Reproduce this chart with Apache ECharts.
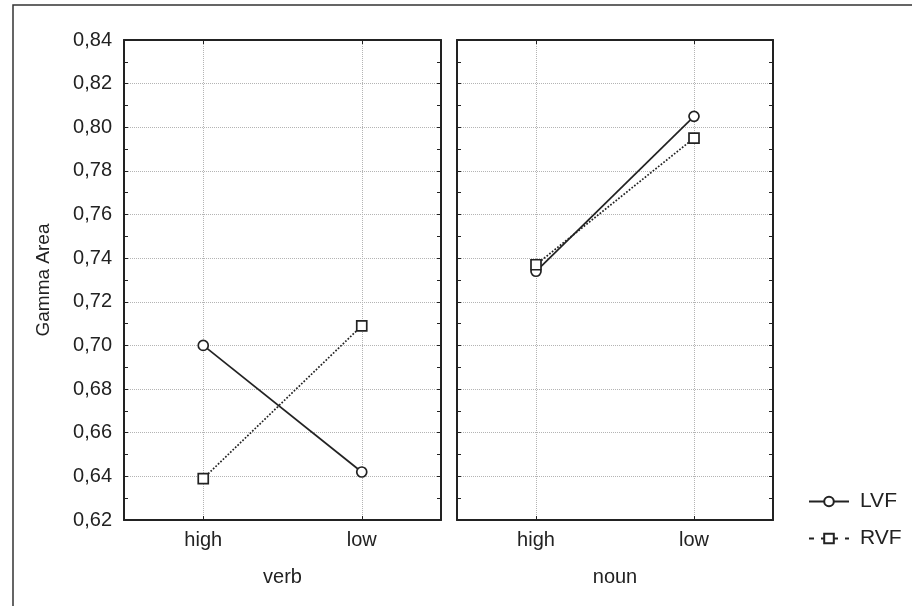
<!DOCTYPE html>
<html>
<head>
<meta charset="utf-8">
<script src="https://cdn.jsdelivr.net/npm/echarts@6/dist/echarts.min.js"></script>
<style>
  html, body { margin: 0; padding: 0; background: #fff; }
  #chart { width: 912px; height: 606px; }
</style>
</head>
<body>
<div id="chart"></div>
<script>
// Category levels for each panel
const verbCategories = ['high', 'low'];
const nounCategories = ['high', 'low'];

// Mean gamma area per visual field
const lvfVerb = [0.700, 0.642];
const rvfVerb = [0.639, 0.709];
const lvfNoun = [0.734, 0.805];
const rvfNoun = [0.737, 0.795];

// Value axis range and step
const yMin = 0.62;
const yMax = 0.84;
const yStep = 0.02;

const FONT = 'Liberation Sans, Arial, sans-serif';
const INK = '#222';

const chart = echarts.init(document.getElementById('chart'), null, { renderer: 'canvas' });

function bottomAxis(gridIndex, cats, name) {
  return {
    type: 'category', gridIndex: gridIndex, position: 'bottom', data: cats,
    boundaryGap: true,
    name: name, nameLocation: 'middle', nameGap: 47,
    nameTextStyle: { fontFamily: FONT, fontSize: 20, color: INK },
    axisLine: { show: true, onZero: false, lineStyle: { color: INK, width: 2 } },
    axisTick: { show: true, inside: true, alignWithLabel: true, length: 4, lineStyle: { color: INK } },
    axisLabel: { fontFamily: FONT, fontSize: 20, color: INK, margin: 10 },
    splitLine: { show: true, alignWithLabel: true, lineStyle: { color: '#b4b4b4', type: 'dotted', width: 1 } }
  };
}
function topAxis(gridIndex, cats) {
  return {
    type: 'category', gridIndex: gridIndex, position: 'top', data: cats,
    boundaryGap: true,
    axisLine: { show: true, onZero: false, lineStyle: { color: INK, width: 2 } },
    axisTick: { show: true, inside: true, alignWithLabel: true, length: 4, lineStyle: { color: INK } },
    axisLabel: { show: false },
    splitLine: { show: false }
  };
}
function valueAxis(gridIndex, position, withLabels) {
  const ax = {
    type: 'value', gridIndex: gridIndex, position: position,
    min: yMin, max: yMax, interval: yStep,
    axisLine: { show: true, lineStyle: { color: INK, width: 2 } },
    axisTick: { show: true, inside: true, length: 4, lineStyle: { color: INK } },
    minorTick: { show: true, splitNumber: 2, length: 4, lineStyle: { color: INK } },
    axisLabel: {
      show: withLabels, fontFamily: FONT, fontSize: 20, color: INK, margin: 12,
      formatter: v => v.toFixed(2).replace('.', ',')
    },
    splitLine: { show: position === 'left', lineStyle: { color: '#b4b4b4', type: 'dotted', width: 1 } }
  };
  if (withLabels) {
    ax.name = 'Gamma Area';
    ax.nameLocation = 'middle';
    ax.nameGap = 71;
    ax.nameTextStyle = { fontFamily: FONT, fontSize: 19, color: INK };
  }
  return ax;
}

function lineSeries(name, xi, yi, data, dotted, symbol) {
  return {
    name: name, type: 'line', xAxisIndex: xi, yAxisIndex: yi, data: data,
    symbol: symbol, symbolSize: 10, showSymbol: true,
    lineStyle: { color: INK, width: 1.7, type: dotted ? 'dotted' : 'solid' },
    itemStyle: { color: '#fff', borderColor: INK, borderWidth: 1.7 },
    emphasis: { disabled: true },
    z: 5
  };
}

const option = {
  backgroundColor: '#fff',
  animation: false,
  grid: [
    { left: 124, top: 40, width: 317, height: 480, containLabel: false },
    { left: 457, top: 40, width: 316, height: 480, containLabel: false }
  ],
  xAxis: [
    bottomAxis(0, verbCategories, 'verb'),
    bottomAxis(1, nounCategories, 'noun'),
    topAxis(0, verbCategories),
    topAxis(1, nounCategories)
  ],
  yAxis: [
    valueAxis(0, 'left', true),
    valueAxis(1, 'left', false),
    valueAxis(0, 'right', false),
    valueAxis(1, 'right', false)
  ],
  legend: {
    orient: 'vertical', left: 803, top: 486,
    itemWidth: 40, itemHeight: 12, itemGap: 16,
    textStyle: { fontFamily: FONT, fontSize: 21, color: INK, padding: [0, 0, 0, 6] },
    data: [
      { name: 'LVF' },
      { name: 'RVF', lineStyle: { type: [5, 7] } }
    ]
  },
  series: [
    lineSeries('LVF', 0, 0, lvfVerb, false, 'circle'),
    lineSeries('RVF', 0, 0, rvfVerb, true, 'rect'),
    lineSeries('LVF', 1, 1, lvfNoun, false, 'circle'),
    lineSeries('RVF', 1, 1, rvfNoun, true, 'rect')
  ],
  graphic: [
    {
      type: 'rect', silent: true, z: 0,
      shape: { x: 13, y: 5, width: 920, height: 620 },
      style: { fill: 'none', stroke: '#333', lineWidth: 1.5 }
    }
  ]
};

chart.setOption(option);
</script>
</body>
</html>
